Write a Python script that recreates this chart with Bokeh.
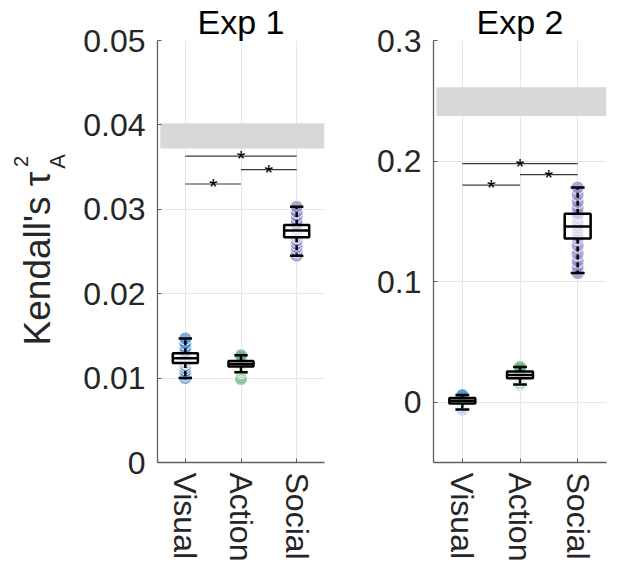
import numpy as np
from bokeh.plotting import figure
from bokeh.models import FixedTicker, Range1d
from bokeh.layouts import row
from bokeh.embed import file_html
from bokeh.resources import INLINE
from bokeh.core.properties import value

# ---------------- data ----------------
categories = ["Visual", "Action", "Social"]
cat_x = [1, 2, 3]
colors = ["#5693d0", "#6db383", "#8c8ccb"]

# Exp 1 per-subject values
exp1_visual = [0.0100, 0.0104, 0.0108, 0.0112, 0.0115, 0.0118, 0.0119, 0.0121, 0.0122, 0.0123,
               0.0124, 0.0125, 0.0126, 0.0127, 0.0128, 0.0129, 0.0132, 0.0136, 0.0141, 0.0147]
exp1_action = [0.0099, 0.0107, 0.0109, 0.0111, 0.0113, 0.0114, 0.0115, 0.0116, 0.0116, 0.0117,
               0.0117, 0.0118, 0.0118, 0.0119, 0.0120, 0.0121, 0.0122, 0.0124, 0.0125, 0.0127]
exp1_social = [0.0245, 0.0250, 0.0255, 0.0259, 0.0263, 0.0267, 0.0269, 0.0271, 0.0273, 0.0274,
               0.0275, 0.0277, 0.0278, 0.0280, 0.0281, 0.0283, 0.0287, 0.0292, 0.0297, 0.0303]
# box stats: whisker low, q1, median, q3, whisker high
exp1_box_visual = [0.0100, 0.01180, 0.01235, 0.01294, 0.0147]
exp1_box_action = [0.0107, 0.01136, 0.01167, 0.01203, 0.0127]
exp1_box_social = [0.0245, 0.02669, 0.02748, 0.02814, 0.0303]
exp1_ceiling = [0.0372, 0.0402]
exp1_sig_y = [0.0363, 0.0347, 0.0330]

# Exp 2 per-subject values
exp2_visual = [-0.0060, -0.0048, -0.0038, -0.0028, -0.0018, -0.0010, -0.0005, 0.0000, 0.0005, 0.0010,
               0.0014, 0.0018, 0.0022, 0.0026, 0.0030, 0.0035, 0.0040, 0.0046, 0.0053, 0.0060]
exp2_action = [0.0146, 0.0158, 0.0170, 0.0182, 0.0192, 0.0199, 0.0205, 0.0211, 0.0217, 0.0223,
               0.0229, 0.0234, 0.0239, 0.0245, 0.0250, 0.0255, 0.0262, 0.0270, 0.0280, 0.0292]
exp2_social = [0.1071, 0.1120, 0.1170, 0.1230, 0.1300, 0.1358, 0.1380, 0.1405, 0.1425, 0.1445,
               0.1465, 0.1485, 0.1505, 0.1530, 0.1550, 0.1564, 0.1610, 0.1660, 0.1720, 0.1781]
exp2_box_visual = [-0.0060, -0.0010, 0.0012, 0.0035, 0.0060]
exp2_box_action = [0.0146, 0.0199, 0.0226, 0.0254, 0.0292]
exp2_box_social = [0.1071, 0.1358, 0.1457, 0.1564, 0.1781]
exp2_ceiling = [0.2373, 0.2612]
exp2_sig_y = [0.1979, 0.1888, 0.1801]

sig_pairs = [(1, 3), (2, 3), (1, 2)]

exp1_ticks = [0, 0.01, 0.02, 0.03, 0.04, 0.05]
exp1_tick_labels = ["0", "0.01", "0.02", "0.03", "0.04", "0.05"]
exp2_ticks = [0, 0.1, 0.2, 0.3]
exp2_tick_labels = ["0", "0.1", "0.2", "0.3"]

ylabel_main = "Kendall's τ"
ylabel_sup = "2"
ylabel_sub = "A"

FONT = "Liberation Sans"
FRAME_H = 422
TOP = 39
T_EST = 41   # expected frame top after the title panel
LAB_W = 75


def make_panel(title, yr, ticks, tick_labels, groups, boxes, ceiling, sig_y,
               frame_w, b_left, b_right):
    p = figure(frame_width=frame_w, frame_height=FRAME_H,
               x_range=Range1d(0.5, 3.5), y_range=Range1d(*yr),
               output_backend="svg", toolbar_location=None, title=title,
               min_border_left=b_left, min_border_right=b_right,
               min_border_top=TOP, min_border_bottom=105,
               background_fill_color="white", border_fill_color="white")
    p.outline_line_color = None
    p.title.text_font = FONT
    p.title.text_font_size = "34px"
    p.title.text_font_style = "normal"
    p.title.text_color = "black"
    p.title.align = "center"
    p.title.standoff = 0
    ppx = (yr[1] - yr[0]) / FRAME_H  # data per pixel (y)

    # axes
    p.xaxis.ticker = FixedTicker(ticks=cat_x)
    p.xaxis.major_label_overrides = {x: c for x, c in zip(cat_x, categories)}
    p.xaxis.major_label_orientation = "vertical"
    p.yaxis.ticker = FixedTicker(ticks=ticks)
    p.yaxis.major_label_overrides = {t: l for t, l in zip(ticks, tick_labels)}
    for ax in (p.xaxis, p.yaxis):
        ax.major_label_text_font = FONT
        ax.major_label_text_font_size = "32px"
        ax.major_label_text_color = "#262626"
        ax.axis_line_color = "#5f5f5f"
        ax.axis_line_width = 1.3
        ax.major_tick_in = 4
        ax.major_tick_out = 0
        ax.major_tick_line_color = "#5f5f5f"
        ax.minor_tick_line_color = None
    p.yaxis.major_label_standoff = 12
    p.xaxis.major_label_standoff = 10
    p.xgrid.ticker = FixedTicker(ticks=cat_x)
    p.ygrid.ticker = FixedTicker(ticks=ticks)
    p.grid.grid_line_color = "#e6e6e6"
    p.grid.grid_line_width = 1

    # noise ceiling band
    p.quad(left=[0.55], right=[3.5], bottom=[ceiling[0]], top=[ceiling[1]],
           fill_color="#d8d8da", line_color=None)

    # significance lines and stars
    p.segment(x0=[a for a, b in sig_pairs], x1=[b for a, b in sig_pairs],
              y0=sig_y, y1=sig_y, line_color="#3a3a3a", line_width=1.2)
    p.text(x=[(a + b) / 2 for a, b in sig_pairs], y=[s - 2.5 * ppx for s in sig_y],
           text=["*"] * 3, text_align="center", text_baseline="alphabetic",
           text_font=value(FONT), text_font_size="22px", text_color="black")

    # points
    for x, vals, col in zip(cat_x, groups, colors):
        p.scatter(x=[x] * len(vals), y=vals, size=13, fill_color=col, fill_alpha=0.75,
                  line_color="white", line_width=1)

    # box plots
    bw = 0.225
    cw = 0.12
    for x, b in zip(cat_x, boxes):
        wlo, q1, med, q3, whi = b
        p.segment(x0=[x, x], x1=[x, x], y0=[q3, q1], y1=[whi, wlo],
                  line_color="black", line_width=2.5, line_dash="5 3")
        p.segment(x0=[x - cw, x - cw], x1=[x + cw, x + cw], y0=[whi, wlo], y1=[whi, wlo],
                  line_color="black", line_width=2.5)
        p.quad(left=[x - bw], right=[x + bw], bottom=[q1], top=[q3],
               fill_color="white", fill_alpha=0.55, line_color="black", line_width=2.5)
        p.segment(x0=[x - bw], x1=[x + bw], y0=[med], y1=[med],
                  line_color="black", line_width=2.5)
    return p


p1 = make_panel("Exp 1", (0, 0.05), exp1_ticks, exp1_tick_labels,
                [exp1_visual, exp1_action, exp1_social],
                [exp1_box_visual, exp1_box_action, exp1_box_social],
                exp1_ceiling, exp1_sig_y, 167, 157 - LAB_W, 29)
p2 = make_panel("Exp 2", (-0.05, 0.3), exp2_ticks, exp2_tick_labels,
                [exp2_visual, exp2_action, exp2_social],
                [exp2_box_visual, exp2_box_action, exp2_box_social],
                exp2_ceiling, exp2_sig_y, 173, 80, 11)

# narrow strip holding the y-axis title "Kendall's τ_A^2"; its frame lines up with p1's frame,
# so its y range is expressed in page pixels measured from the frame top
lab = figure(frame_width=LAB_W, frame_height=FRAME_H,
             x_range=Range1d(0, LAB_W), y_range=Range1d(0, FRAME_H),
             x_axis_type=None, y_axis_type=None, output_backend="svg",
             toolbar_location=None, min_border_left=0, min_border_right=0,
             min_border_top=TOP, min_border_bottom=105, title_location=None)
lab.outline_line_color = None
lab.grid.visible = False
# (text, centre x, centre y in page pixels, font size)
for txt, cx, cy, fs in [(ylabel_main, 37, 259, "37px"),
                        (ylabel_sup, 20, 162, "20px"),
                        (ylabel_sub, 57, 162, "22px")]:
    lab.text(x=[cx], y=[FRAME_H - (cy - T_EST)], text=[txt], angle=np.pi / 2,
             text_align="center", text_baseline="middle", text_font=value(FONT),
             text_font_size=fs, text_color="#262626")

layout = row(lab, p1, p2)
open("out.html", "w").write(file_html(layout, INLINE))
